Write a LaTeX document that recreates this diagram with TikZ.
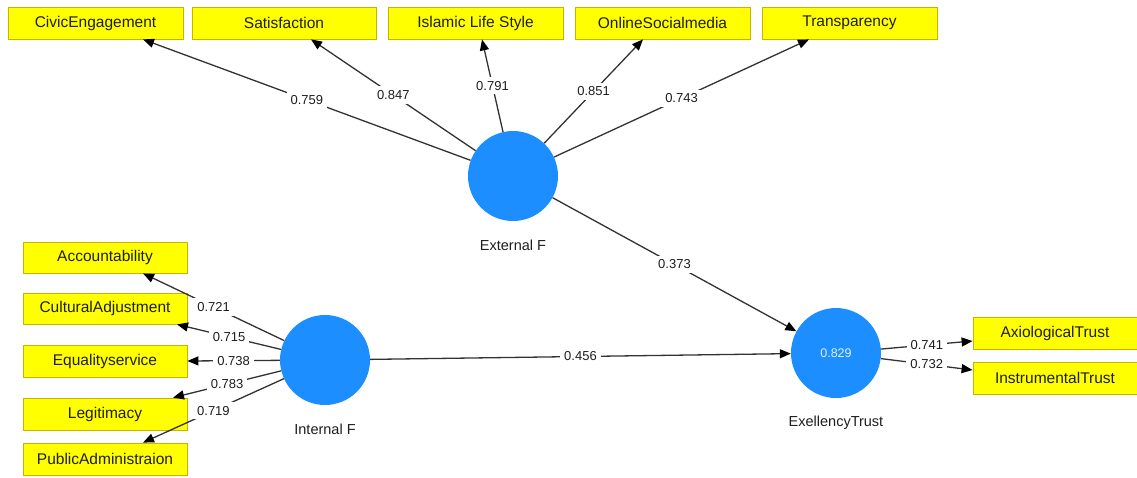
\documentclass[tikz,border=0pt]{standalone}
\usepackage{fontspec}
\setmainfont{Liberation Sans}
\usetikzlibrary{arrows.meta}
\definecolor{boxyellow}{RGB}{255,255,0}
\definecolor{boxedge}{RGB}{200,180,0}
\definecolor{lvblue}{RGB}{28,142,255}
\definecolor{linegray}{RGB}{50,50,50}
\definecolor{txt}{RGB}{30,30,30}
\definecolor{innertxt}{RGB}{225,240,255}
\begin{document}
\begin{tikzpicture}[x=1pt,y=-1pt,
 ind/.style={draw=boxedge, fill=boxyellow, line width=0.8pt, minimum height=32pt, inner sep=0pt, font=\fontsize{15.5}{18}\selectfont, text=txt},
 lv/.style={circle, fill=lvblue, minimum size=90pt, inner sep=0pt},
 lvname/.style={font=\fontsize{14.5}{17}\selectfont, text=txt},
 conn/.style={draw=linegray, line width=1.3pt, -{Triangle[length=11pt,width=9pt,color=black]}},
 wt/.style={fill=white, inner xsep=4pt, inner ysep=4pt, font=\fontsize{13}{15}\selectfont, text=txt}
]
\useasboundingbox (0,0) rectangle (1137,477);

% top indicators
\node[ind, minimum width=175pt] (civ) at (95.5,23) {CivicEngagement};
\node[ind, minimum width=184pt] (sat) at (284,23) {Satisfaction};
\node[ind, minimum width=175pt] (isl) at (475.5,23) {Islamic Life Style};
\node[ind, minimum width=175pt] (onl) at (662.5,23) {OnlineSocialmedia};
\node[ind, minimum width=175pt] (tra) at (849.5,23) {Transparency};

% left indicators
\node[ind, minimum width=164pt, minimum height=31pt] (acc) at (105,257.5) {Accountability};
\node[ind, minimum width=164pt, minimum height=31pt] (cul) at (105,308.5) {CulturalAdjustment};
\node[ind, minimum width=164pt] (equ) at (105,361) {Equalityservice};
\node[ind, minimum width=164pt] (leg) at (105,414) {Legitimacy};
\node[ind, minimum width=164pt] (pub) at (105,459) {PublicAdministraion};

% right indicators
\node[ind, minimum width=164pt] (axi) at (1055,333) {AxiologicalTrust};
\node[ind, minimum width=164pt] (ins) at (1055,378) {InstrumentalTrust};

% latent variables
\node[lv] (EF) at (513,176) {};
\node[lv] (IF) at (325,360) {};
\node[lv, font=\fontsize{12.5}{15}\selectfont, text=innertxt] (ET) at (836,353) {0.829};

\node[lvname] (EFl) at (513,245) {External F};
\node[lvname] (IFl) at (325,429) {Internal F};
\node[lvname] (ETl) at (836,423) {ExellencyTrust};

% External F loadings
\draw[conn] (EF) -- node[wt]{0.759} ([xshift=47.5pt]civ.south);
\draw[conn] (EF) -- node[wt]{0.847} ([xshift=27pt]sat.south);
\draw[conn] (EF) -- node[wt]{0.791} ([xshift=6.5pt]isl.south);
\draw[conn] (EF) -- node[wt]{0.851} ([xshift=-19.5pt]onl.south);
\draw[conn] (EF) -- node[wt]{0.743} ([xshift=-40.5pt]tra.south);

% Internal F loadings
\draw[conn] (IF) -- node[wt]{0.721} ([xshift=38pt]acc.south);
\draw[conn] (IF) -- node[wt]{0.715} ([xshift=72pt]cul.south);
\draw[conn] (IF) -- node[wt]{0.738} (equ.east);
\draw[conn] (IF) -- node[wt]{0.783} ([xshift=68pt]leg.north);
\draw[conn] (IF) -- node[wt]{0.719} ([xshift=38pt]pub.north);

% structural paths
\draw[conn] (EF) -- node[wt]{0.373} (ET);
\draw[conn] (IF) -- node[wt]{0.456} (ET);

% ExellencyTrust loadings
\draw[conn] (ET) -- node[wt]{0.741} ([yshift=-8pt]axi.west);
\draw[conn] (ET) -- node[wt]{0.732} ([yshift=8pt]ins.west);
\end{tikzpicture}
\end{document}
